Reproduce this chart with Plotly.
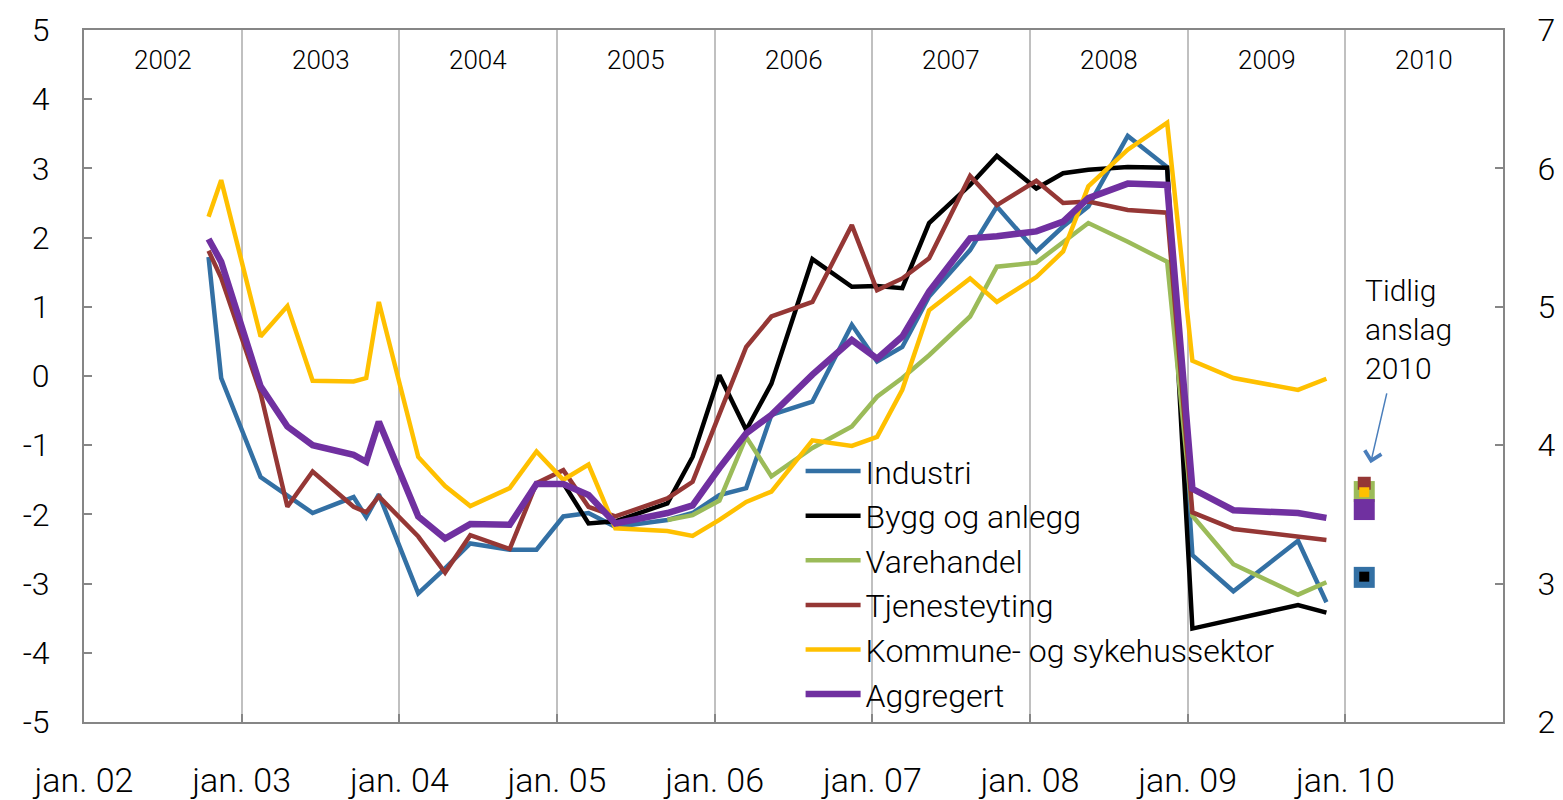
import plotly.graph_objects as go

# Survey dates (decimal years)
dates = [2002.79, 2002.87, 2003.12, 2003.29, 2003.45, 2003.71, 2003.79, 2003.87,
         2004.12, 2004.29, 2004.45, 2004.70, 2004.87, 2005.04, 2005.20, 2005.37,
         2005.70, 2005.86, 2006.03, 2006.20, 2006.36, 2006.62, 2006.87, 2007.03,
         2007.19, 2007.36, 2007.62, 2007.79, 2008.04, 2008.21, 2008.37, 2008.62,
         2008.87, 2009.03, 2009.29, 2009.70, 2009.88]

industri = [1.72, -0.03, -1.46, -1.72, -1.98, -1.75, -2.04, -1.71,
            -3.14, -2.78, -2.42, -2.51, -2.51, -2.03, -1.98, -2.18,
            -2.08, -1.98, -1.72, -1.62, -0.56, -0.37, 0.74, 0.21,
            0.42, 1.15, 1.82, 2.45, 1.80, 2.16, 2.45, 3.47,
            3.02, -2.59, -3.11, -2.38, -3.27]

bygg = [None] * 13 + [-1.55, -2.13, -2.10,
        -1.84, -1.17, 0.01, -0.78, -0.11, 1.69, 1.29, 1.30,
        1.27, 2.21, 2.76, 3.18, 2.71, 2.93, 2.98, 3.02,
        3.01, -3.65, -3.52, -3.31, -3.42]

varehandel = [None] * 16 + [-2.08, -2.01, -1.80, -0.88, -1.45, -1.04, -0.73, -0.30,
              -0.03, 0.30, 0.86, 1.58, 1.64, 1.94, 2.21, 1.94,
              1.65, -2.02, -2.72, -3.16, -2.98]

tjeneste = [1.81, 1.42, -0.25, -1.89, -1.38, -1.89, -1.97, -1.74,
            -2.32, -2.84, -2.30, -2.50, -1.55, -1.36, -1.89, -2.03,
            -1.77, -1.53, -0.55, 0.42, 0.86, 1.07, 2.18, 1.24,
            1.41, 1.70, 2.89, 2.47, 2.82, 2.50, 2.52, 2.40,
            2.36, -1.97, -2.21, -2.33, -2.37]

kommune = [2.30, 2.83, 0.57, 1.01, -0.07, -0.08, -0.03, 1.07,
           -1.17, -1.59, -1.88, -1.62, -1.09, -1.50, -1.28, -2.20,
           -2.24, -2.31, -2.08, -1.82, -1.67, -0.93, -1.01, -0.88,
           -0.20, 0.95, 1.41, 1.07, 1.43, 1.80, 2.74, 3.27,
           3.66, 0.22, -0.03, -0.20, -0.04]

aggregert = [1.98, 1.65, -0.15, -0.73, -1.00, -1.14, -1.24, -0.66,
             -2.03, -2.35, -2.14, -2.15, -1.56, -1.56, -1.72, -2.13,
             -1.98, -1.87, -1.33, -0.83, -0.56, 0.02, 0.52, 0.25,
             0.57, 1.22, 1.99, 2.02, 2.09, 2.23, 2.57, 2.78,
             2.76, -1.63, -1.94, -1.98, -2.05]

# Early estimate 2010
estimate_date = 2010.12
estimate = {"Industri": -2.91, "Bygg og anlegg": -2.90, "Varehandel": -1.67,
            "Tjenesteyting": -1.55, "Kommune- og sykehussektor": -1.68,
            "Aggregert": -1.93}

years = list(range(2002, 2011))
tick_years = list(range(2002, 2011))
tick_labels = ["jan. 02", "jan. 03", "jan. 04", "jan. 05", "jan. 06",
               "jan. 07", "jan. 08", "jan. 09", "jan. 10"]
left_ticks = list(range(-5, 6))
left_labels = [str(v) for v in left_ticks]
right_ticks = list(range(2, 8))
right_labels = [str(v) for v in right_ticks]

series = [
    ("Industri", industri, "#3370a4", 4.5),
    ("Bygg og anlegg", bygg, "#000000", 4.5),
    ("Varehandel", varehandel, "#9bbb59", 4.5),
    ("Tjenesteyting", tjeneste, "#953735", 4.5),
    ("Kommune- og sykehussektor", kommune, "#ffc000", 4.5),
    ("Aggregert", aggregert, "#7030a0", 6.5),
]
colors = {n: c for n, _, c, _ in series}

FONT = "Roboto"
FS = 32

fig = go.Figure()
for name, vals, col, w in series:
    fig.add_trace(go.Scatter(x=dates, y=vals, name=name, mode="lines",
                             line=dict(color=col, width=w), connectgaps=False))

# estimate markers (draw order & sizes)
marker_order = [("Varehandel", 21), ("Aggregert", 21), ("Tjenesteyting", 13),
                ("Kommune- og sykehussektor", 10), ("Industri", 21), ("Bygg og anlegg", 10)]
for name, sz in marker_order:
    fig.add_trace(go.Scatter(x=[estimate_date], y=[estimate[name]], mode="markers",
                             marker=dict(symbol="square", size=sz, color=colors[name],
                                         line=dict(width=0)),
                             showlegend=False, hoverinfo="skip"))

# empty trace to activate the right-hand axis
fig.add_trace(go.Scatter(x=[], y=[], yaxis="y2", showlegend=False, hoverinfo="skip"))

annotations = []
for yr in years:
    annotations.append(dict(x=yr + 0.5, y=4.57, xref="x", yref="y", text=str(yr),
                            showarrow=False, font=dict(size=26, color="black", family=FONT, weight=300)))
annotations.append(dict(x=2010.11, y=1.52, xref="x", yref="y", xanchor="left", yanchor="top",
                        align="left", text="Tidlig<br>anslag<br>2010", showarrow=False,
                        font=dict(size=30, color="black", family=FONT, weight=300)))
annotations.append(dict(x=2010.16, y=-1.26, xref="x", yref="y", ax=2010.265, ay=-0.23,
                        axref="x", ayref="y", text="", showarrow=True, arrowhead=4,
                        arrowsize=2.2, arrowwidth=1.5, arrowcolor="#4a7ebb"))

axis_common = dict(showline=True, linecolor="#868686", linewidth=2, zeroline=False,
                   ticks="inside", ticklen=8, tickcolor="#868686", tickwidth=1.5,
                   automargin=False)

fig.update_layout(
    width=1555, height=792,
    margin=dict(l=76, r=60, t=22, b=78),
    paper_bgcolor="white", plot_bgcolor="white",
    font=dict(family=FONT, size=FS, color="black", weight=300),
    showlegend=True,
    legend=dict(x=0.505, y=0.402, xanchor="left", yanchor="top",
                bgcolor="rgba(0,0,0,0)", font=dict(size=FS, family=FONT, weight=300),
                itemwidth=55, tracegroupgap=0),
    annotations=annotations,
    xaxis=dict(range=[2002, 2011], tickvals=tick_years, ticktext=tick_labels,
               showgrid=True, gridcolor="#c0c0c0", gridwidth=1.5, mirror=True,
               ticklabelstandoff=27, tickfont=dict(size=34, family=FONT, weight=300),
               **axis_common),
    yaxis=dict(range=[-5, 5], tickvals=left_ticks, ticktext=left_labels, showgrid=False,
               ticklabelstandoff=26, tickfont=dict(size=FS, family=FONT, weight=300),
               **axis_common),
    yaxis2=dict(range=[2, 7], tickvals=right_ticks, ticktext=right_labels, overlaying="y",
                side="right", showgrid=False, ticklabelstandoff=26,
                tickfont=dict(size=FS, family=FONT, weight=300), **axis_common),
)

fig.write_html("out.html")
